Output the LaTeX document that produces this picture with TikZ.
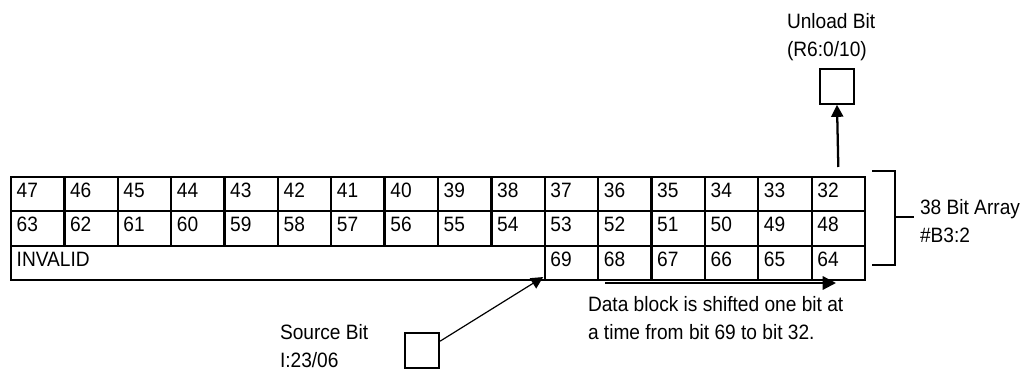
\documentclass[tikz,border=0pt]{standalone}
\usepackage{fontspec}
\setmainfont[FakeStretch=0.92]{Liberation Sans}
\usetikzlibrary{arrows.meta}
\begin{document}
\begin{tikzpicture}[x=0.75pt,y=-0.75pt,
  txt/.style={inner sep=0pt,outer sep=0pt,anchor=base west,font=\fontsize{15.6pt}{21pt}\selectfont},
  cell/.style={draw,line width=1.7pt,inner sep=0pt,outer sep=0pt,anchor=north west,
    minimum width=40.03pt,minimum height=25.75pt},
  bitbox/.style={draw,line width=1.5pt,inner sep=0pt,minimum width=25.5pt,minimum height=26pt},
  thick line/.style={line width=1.7pt},
  bigtip/.style={-{Triangle[length=9pt,width=9pt]}},
]
\useasboundingbox (0,0) rectangle (1035,373);

% rows 1 and 2
\foreach \c in {0,...,15}{
  \pgfmathtruncatemacro{\na}{47-\c}
  \pgfmathtruncatemacro{\nb}{63-\c}
  \node[cell] (ra\c) at ({11+\c*53.375},177) {};
  \node[txt] at ([xshift=4.3pt,yshift=-15.2pt]ra\c.north west) {\na};
  \node[cell] (rb\c) at ({11+\c*53.375},211.33) {};
  \node[txt] at ([xshift=4.3pt,yshift=-15.2pt]rb\c.north west) {\nb};
}
% row 3
\node[cell,minimum width=400.31pt] (inv) at (11,245.66) {};
\node[txt] at ([xshift=4.3pt,yshift=-15.7pt]inv.north west) {INVALID};
\foreach \c in {10,...,15}{
  \pgfmathtruncatemacro{\nc}{79-\c}
  \node[cell] (rc\c) at ({11+\c*53.375},245.66) {};
  \node[txt] at ([xshift=4.3pt,yshift=-15.7pt]rc\c.north west) {\nc};
}

% unload bit
\node[bitbox] (unload) at (837,86.5) {};
\node[txt] at (787,29) {Unload Bit};
\node[txt] at (787,57) {(R6:0/10)};
\draw[thick line,bigtip] ([yshift=7.5pt]ra15.north) -- (unload.south);

% source bit
\node[bitbox] (source) at (422,350.5) {};
\node[txt] at (280,340) {Source Bit};
\node[txt] at (280,368) {I:23/06};
\draw[line width=0.9pt,bigtip] ([yshift=-6.8pt]source.north east) -- ([xshift=-1.2pt,yshift=2.2pt]rc10.south west);

% shift arrow
\coordinate (shiftstart) at (605,283);
\coordinate (shiftend) at (836,283);
\draw[thick line,-{Triangle[length=10pt,width=10pt]}] (shiftstart) -- (shiftend);
\node[txt] at (588,312) {Data block is shifted one bit at};
\node[txt] at (588,340) {a time from bit 69 to bit 32.};

% bracket
\coordinate (bt) at (872,171);
\coordinate (bb) at (872,265);
\coordinate (bm) at (895,217);
\coordinate (btick) at (914,217);
\draw[thick line] (bt) -- (895,171) -- (895,265) -- (bb);
\draw[thick line] (bm) -- (btick);
\node[txt] at (920,215) {38 Bit Array};
\node[txt] at (920,243) {\#B3:2};
\end{tikzpicture}
\end{document}
